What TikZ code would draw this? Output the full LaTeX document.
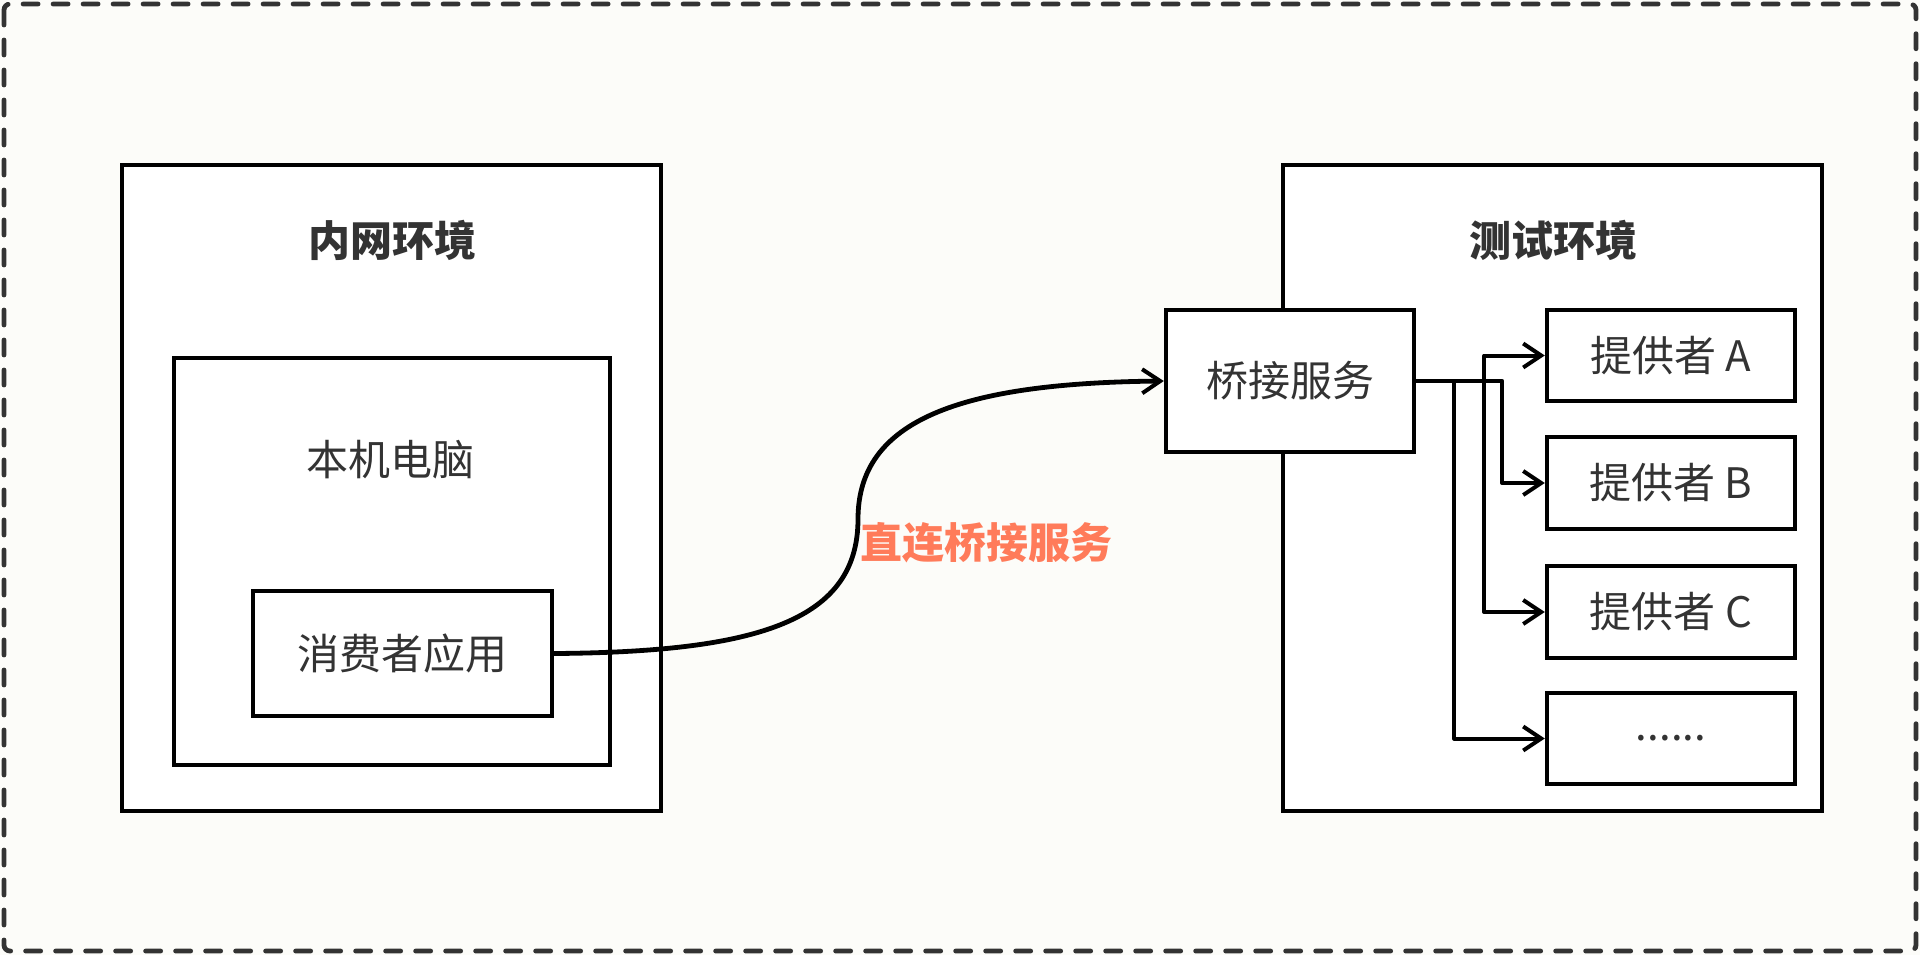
\documentclass[tikz,border=0pt]{standalone}
\usepackage{fontspec}
\setmainfont{Noto Sans CJK SC}
\usetikzlibrary{arrows.meta,fit}
\definecolor{bgpaper}{HTML}{FCFCF9}
\definecolor{inkgray}{HTML}{333333}
\definecolor{labelorange}{HTML}{FF7B5A}
\begin{document}
\begin{tikzpicture}[x=0.5pt, y=-0.5pt,
    box/.style = {draw=black, line width=2.2pt, fill=white, inner sep=0pt},
    txt/.style = {text=inkgray, font=\fontsize{21pt}{25pt}\selectfont},
    envtitle/.style = {text=inkgray, font=\fontsize{21pt}{25pt}\selectfont\bfseries},
    link/.style = {line width=2pt, line join=round, -{Straight Barb[length=9pt,width=12pt,line width=2pt]}}]
    \useasboundingbox (0,0) rectangle (1920,955);
    \fill[bgpaper] (0,0) rectangle (1920,955);
    \draw[inkgray, line width=2.4pt, line cap=round, dash pattern=on 7.5pt off 7.5pt, rounded corners=3pt] (4,4) rectangle (1916,951);
    % left side
    \node[box, fit={(122,165) (661,811)}] (intranet) {};
    \node[envtitle] (intranettitle) at (392,240) {内网环境};
    \node[box, fit={(174,358) (610,765)}] (pc) {};
    \node[txt] (pctitle) at (390,460) {本机电脑};
    \node[box, fit={(253,591) (552,716)}] (app) {};
    \node[txt] (apptext) at (app.center) {消费者应用};
    % right side
    \node[box, fit={(1283,165) (1822,811)}] (testenv) {};
    \node[envtitle] (testenvtitle) at (1553,240) {测试环境};
    \node[box, fit={(1166,310) (1414,452)}] (bridge) {};
    \node[txt] (bridgetext) at (bridge.center) {桥接服务};
    \node[box, fit={(1547,310) (1795,401)}] (pa) {};
    \node[txt] (patext) at (pa.center) {提供者 A};
    \node[box, fit={(1547,437) (1795,529)}] (pb) {};
    \node[txt] (pbtext) at (pb.center) {提供者 B};
    \node[box, fit={(1547,566) (1795,658)}] (pc) {};
    \node[txt] (pctext) at (pc.center) {提供者 C};
    \node[box, fit={(1547,693) (1795,784)}] (pd) {};
    \node[txt] (pdtext) at (pd.center) {......};
    % direct link
    \coordinate (bend) at (858,519);
    \draw[link, line width=2.4pt] (app.east) .. controls (760,652) and (858,620) .. (bend)
        .. controls (858,420) and (960,383) .. (bridge.west);
    \node[anchor=west, text=labelorange, font=\fontsize{21pt}{25pt}\selectfont\bfseries] (directlabel) at (853,543) {直连桥接服务};
    % fan out
    \draw[link] (bridge.east) -- ++(68,0) |- (pa.west);
    \draw[link] (bridge.east) -- ++(86,0) |- (pb.west);
    \draw[link] (bridge.east) -- ++(68,0) |- (pc.west);
    \draw[link] (bridge.east) -- ++(38,0) |- (pd.west);
\end{tikzpicture}
\end{document}
